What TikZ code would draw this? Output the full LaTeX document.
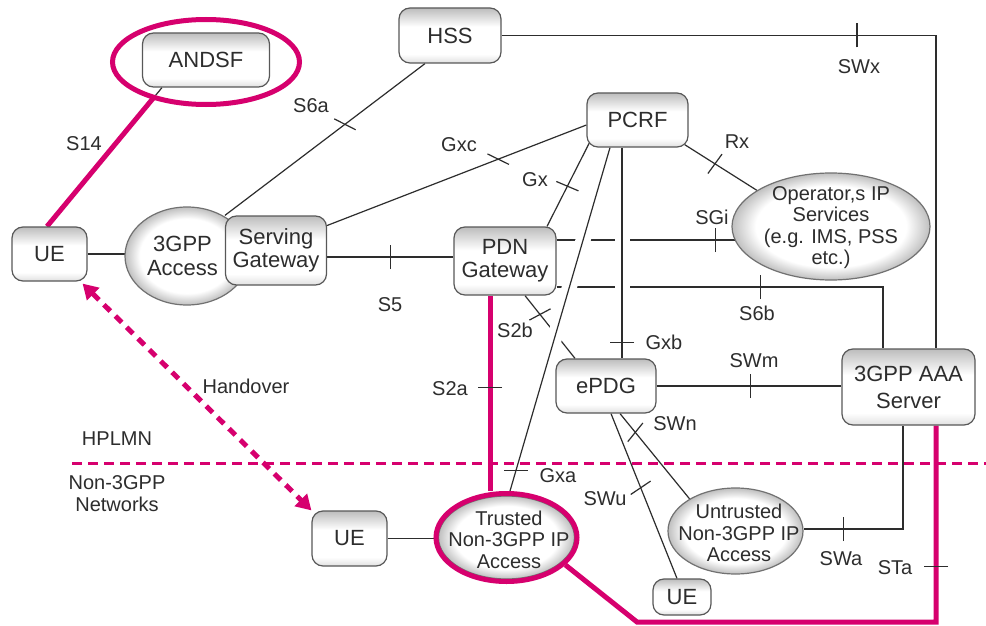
\documentclass[tikz,border=0pt]{standalone}
\usepackage{fontspec}
\setmainfont{Liberation Sans}
\usetikzlibrary{shapes.geometric,arrows.meta,calc}
\pgfdeclarelayer{bg}
\pgfsetlayers{bg,main}

\definecolor{mag}{RGB}{214,0,110}
\definecolor{ink}{RGB}{45,45,45}
\definecolor{edge}{RGB}{88,88,88}

% soft fills: grey rim on the boxes, white core on the ellipses
\pgfdeclareverticalshading{boxsh}{100bp}{color(0bp)=(black!12); color(25bp)=(black!12);
  color(33bp)=(white); color(58bp)=(white); color(75bp)=(black!26); color(100bp)=(black!26)}
\pgfdeclareradialshading{ellsh}{\pgfpoint{0bp}{0bp}}{color(0bp)=(white); color(19bp)=(white);
  color(25bp)=(black!25); color(50bp)=(black!25)}

% short interface marker across a reference point, at a given screen angle
\newcommand\tickat[2]{\draw[tickln] ($(#1)+(#2:12)$) -- ($(#1)+(#2+180:12)$);}

\tikzset{
  box/.style={rectangle, draw=edge, line width=1.2pt, rounded corners=11pt,
    shade, shading=boxsh,
    inner sep=0pt, align=center, text=ink, font=\fontsize{22}{23}\selectfont},
  ell/.style={ellipse, draw=edge!85, line width=1.2pt, shade, shading=ellsh, inner sep=0pt},
  ring/.style={ellipse, draw=mag, line width=5pt, inner sep=0pt},
  etext/.style={align=center, text=ink, font=\fontsize{20}{21.5}\selectfont},
  lbl/.style={text=ink, font=\fontsize{20}{22}\selectfont, inner sep=0pt},
  conn/.style={draw=ink, line width=1.2pt},
  magln/.style={draw=mag, line width=5pt},
  tickln/.style={draw=ink, line width=1.2pt},
  hop/.style 2 args={preaction={draw=white, line width=15pt, shorten <=#1, shorten >=#2}},
  handover/.style={draw=mag, line width=5pt, dash pattern=on 9pt off 7pt,
    {Triangle[length=15pt,width=17pt]}-{Triangle[length=15pt,width=17pt]}},
  border/.style={draw=mag, line width=3pt, dash pattern=on 9.5pt off 6.5pt}
}

\begin{document}
\begin{tikzpicture}[x=1pt,y=-1pt]
\useasboundingbox (0,0) rectangle (986,626);

% ---- network elements ----
\node[box, minimum width=127pt, minimum height=54pt] (andsf) at (206,60) {ANDSF};
\node[ring, minimum width=187pt, minimum height=85pt] (andsfring) at (206,62) {};
\node[box, minimum width=75pt, minimum height=54pt] (ueA) at (49.5,254) {UE};
\node[ell, minimum width=124pt, minimum height=98pt] (acc) at (187,256) {};
\node[etext, font=\fontsize{22}{24}\selectfont] (accT) at (182.5,256) {3GPP\\Access};
\node[box, minimum width=101pt, minimum height=69pt] (sgw) at (276,250.5) {Serving\\Gateway};
\node[box, minimum width=102pt, minimum height=55pt] (hss) at (450,35.5) {HSS};
\node[box, minimum width=101pt, minimum height=54pt] (pcrf) at (637.5,120) {PCRF};
\node[box, minimum width=102pt, minimum height=68pt] (pdn) at (505,261) {PDN\\Gateway};
\node[ell, minimum width=198pt, minimum height=107pt] (opip) at (831,226.5) {};
\node[etext] (opipT) at (831,227.5) {Operator,s IP\\Services\\(e.g. IMS, PSS\\etc.)};
\node[box, minimum width=100pt, minimum height=54pt] (epdg) at (606,386) {ePDG};
\node[box, minimum width=133pt, minimum height=76pt, font=\fontsize{22}{27}\selectfont] (aaa) at (908.5,387) {3GPP AAA\\Server};
\node[box, minimum width=75pt, minimum height=55pt] (ueB) at (349.5,538.5) {UE};
\node[ell, minimum width=136pt, minimum height=83pt] (trustedIn) at (506.5,537.5) {};
\node[ring, minimum width=141pt, minimum height=88pt] (trusted) at (506.5,537.5) {};
\node[etext] (trustedT) at (509,539.5) {Trusted\\Non-3GPP IP\\Access};
\node[ell, minimum width=135pt, minimum height=86pt] (untr) at (735.5,531) {};
\node[etext] (untrT) at (739,533) {Untrusted\\Non-3GPP IP\\Access};
\node[box, minimum width=58pt, minimum height=36pt] (ueC) at (682,597) {UE};

% ---- interface names and region labels ----
\node[lbl] (lS14) at (84,144) {S14};
\node[lbl] (lS6a) at (311,106) {S6a};
\node[lbl] (lGxc) at (459,145) {Gxc};
\node[lbl] (lGx) at (535,180) {Gx};
\node[lbl] (lRx) at (737,142) {Rx};
\node[lbl] (lSGi) at (712,217) {SGi};
\node[lbl] (lS6b) at (757,313) {S6b};
\node[lbl] (lSWx) at (859,67) {SWx};
\node[lbl] (lS5) at (390,305) {S5};
\node[lbl] (lS2b) at (515,330) {S2b};
\node[lbl] (lS2a) at (450,389) {S2a};
\node[lbl] (lGxb) at (664,342) {Gxb};
\node[lbl] (lGxa) at (558,476) {Gxa};
\node[lbl] (lSWm) at (754,361) {SWm};
\node[lbl] (lSWn) at (675,424) {SWn};
\node[lbl] (lSWu) at (605,499) {SWu};
\node[lbl] (lSWa) at (841,559) {SWa};
\node[lbl] (lSTa) at (895,568) {STa};
\node[lbl] (lHand) at (246,386) {Handover};
\node[lbl] (lHPLMN) at (117,439) {HPLMN};
\node[lbl, align=center, font=\fontsize{20}{22}\selectfont] (lNon) at (117,494) {Non-3GPP\\Networks};

% ---- links, behind the elements ----
\begin{pgfonlayer}{bg}
\fill[white] (0,0) rectangle (986,626);

% S14 to the ANDSF
\draw[conn] ([xshift=-2.5pt]ueA.north) -- ([xshift=-44pt]andsf.south);
\draw[magln, shorten >=13pt] ([xshift=-2.5pt]ueA.north) -- ([xshift=-44pt]andsf.south);

\draw[conn] (ueA.east) -- (ueA.east -| acc.center);
\draw[conn] (sgw.north west) -- coordinate[pos=.6] (tS6a) ([xshift=-25pt]hss.south);
\draw[conn] ([yshift=25pt]sgw.east) -- coordinate[pos=.66] (tGxc) ([yshift=-5pt]pcrf.west);
\draw[conn] ([yshift=-6.5pt]sgw.east) -- coordinate[pos=.5] (tS5) ([yshift=-6.5pt]sgw.east -| pdn.west);
\draw[conn] ([xshift=42pt]pdn.north) -- coordinate[pos=.48] (tGx) ([xshift=-48pt,yshift=5pt]pcrf.south);
\draw[conn] ([xshift=-4pt,yshift=3pt]pcrf.south east) -- coordinate[pos=.42] (tRx) (opip.154);
\draw[conn] ([yshift=21pt]pdn.east) -- coordinate[pos=.578] (tSGi) ([yshift=21pt]pdn.east -| opip.center);
\draw[conn] ([yshift=-26pt]pdn.east) -| coordinate[pos=.312] (tS6b) ([xshift=-25.5pt]aaa.north);
\draw[conn] (hss.east) -| coordinate[pos=.409] (tSWx) ([xshift=27.5pt]aaa.north);
\draw[conn] ([xshift=20pt]pdn.south) -- coordinate[pos=.3] (tS2b) ([xshift=-31pt]epdg.north);
\draw[magln] ([xshift=-15pt]pdn.south) -- coordinate[pos=.469] (tS2a) ([xshift=-15pt]pdn.south |- trusted.north);
\draw[conn] (epdg.east) -- coordinate[pos=.51] (tSWm) (epdg.east -| aaa.west);
\draw[conn] ([xshift=14pt]epdg.south) -- coordinate[pos=.22] (tSWn) (untr.145);
\draw[conn] ([xshift=5pt]epdg.south) -- coordinate[pos=.45] (tSWu) ([xshift=-5pt]ueC.north);
\draw[conn] ([yshift=2pt]untr.east) -| coordinate[pos=.2] (tSWa) ([xshift=-5.5pt]aaa.south);
\draw[conn] (ueB.east) -- (ueB.east -| trusted.center);

% STa path along the bottom edge
\coordinate (staBend) at (637,622);
\draw[magln] (trusted.-25) -- (staBend) -| coordinate[pos=.642] (tSTa) ([xshift=27.5pt]aaa.south);

% links that cut the lines they cross
\draw[conn, hop={81pt}{149pt}] ([xshift=-27.5pt]pcrf.south) -- coordinate[pos=.941] (tGxa) ([xshift=3.5pt]trusted.north);
\draw[conn, hop={78pt}{59pt}] ([xshift=-15.5pt]pcrf.south) -- coordinate[pos=.925] (tGxb) ([xshift=-15.5pt]pcrf.south |- epdg.north);

% home network border
\coordinate (hplW) at (72,463);
\coordinate (hplE) at (986,463);
\draw[border] (hplW) -- (hplE);

% handover between the two UEs
\draw[handover] ([xshift=-5pt,yshift=-2pt]ueA.south east) -- (ueB.north west);

% interface markers
\tickat{tS6a}{27}
\tickat{tGxc}{26}
\tickat{tS5}{90}
\tickat{tGx}{23}
\tickat{tRx}{-54}
\tickat{tSGi}{90}
\tickat{tS6b}{90}
\tickat{tSWx}{90}
\tickat{tS2b}{-28}
\tickat{tS2a}{0}
\tickat{tGxa}{0}
\tickat{tGxb}{0}
\tickat{tSWm}{90}
\tickat{tSWn}{-51}
\tickat{tSWu}{-34}
\tickat{tSWa}{90}
\tickat{tSTa}{0}
\end{pgfonlayer}
\end{tikzpicture}
\end{document}
